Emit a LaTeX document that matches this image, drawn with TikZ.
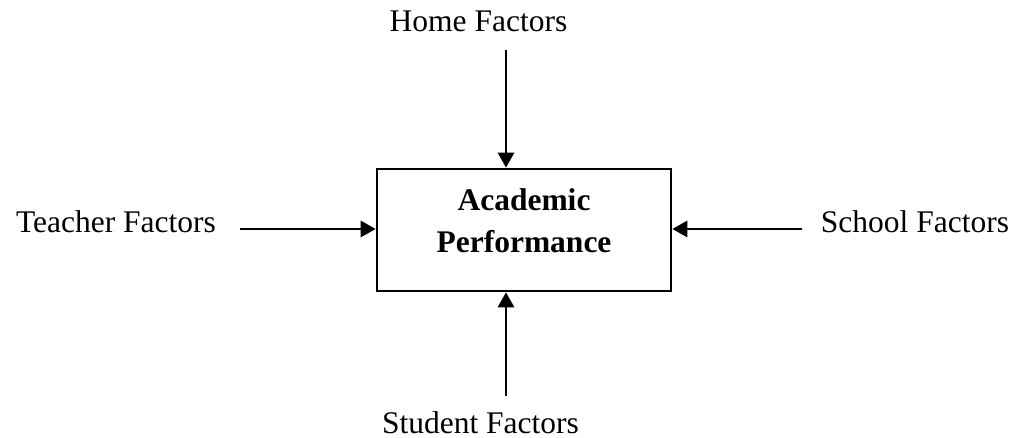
\documentclass[tikz,border=0pt]{standalone}
\usepackage{fontspec}
\setmainfont{Liberation Serif}
\usetikzlibrary{arrows.meta}
\begin{document}
\begin{tikzpicture}[x=1pt,y=-1pt,
  lbl/.style={font=\fontsize{31.5}{42}\selectfont, anchor=base, inner sep=0pt},
  title/.style={font=\fontsize{31.5}{42}\selectfont\bfseries, align=center, anchor=base, inner sep=0pt},
  box/.style={draw, line width=2.6pt, minimum width=294pt, minimum height=122pt, inner sep=0pt},
  arr/.style={line width=2.8pt, -{Triangle[length=15pt,width=16pt]}}]
\useasboundingbox[fill=white] (0,0) rectangle (1019,438);

% central box and its caption (base anchor sits on the last line)
\node[box] (perf) at (524,230) {};
\node[title] (caption) at (524,252) {Academic\\Performance};

% the four factor labels
\node[lbl] (home) at (478.5,32) {Home Factors};
\node[lbl] (student) at (480.5,433) {Student Factors};
\node[lbl] (teacher) at (116,233) {Teacher Factors};
\node[lbl] (school) at (915,233) {School Factors};

% free ends of the arrows
\coordinate (hstart) at (506,50);
\coordinate (sstart) at (506,396);
\coordinate (tstart) at (240,229);
\coordinate (cstart) at (802,229);

\draw[arr] (hstart) -- (hstart |- perf.north);
\draw[arr] (sstart) -- (sstart |- perf.south);
\draw[arr] (tstart) -- (tstart -| perf.west);
\draw[arr] (cstart) -- (cstart -| perf.east);
\end{tikzpicture}
\end{document}
